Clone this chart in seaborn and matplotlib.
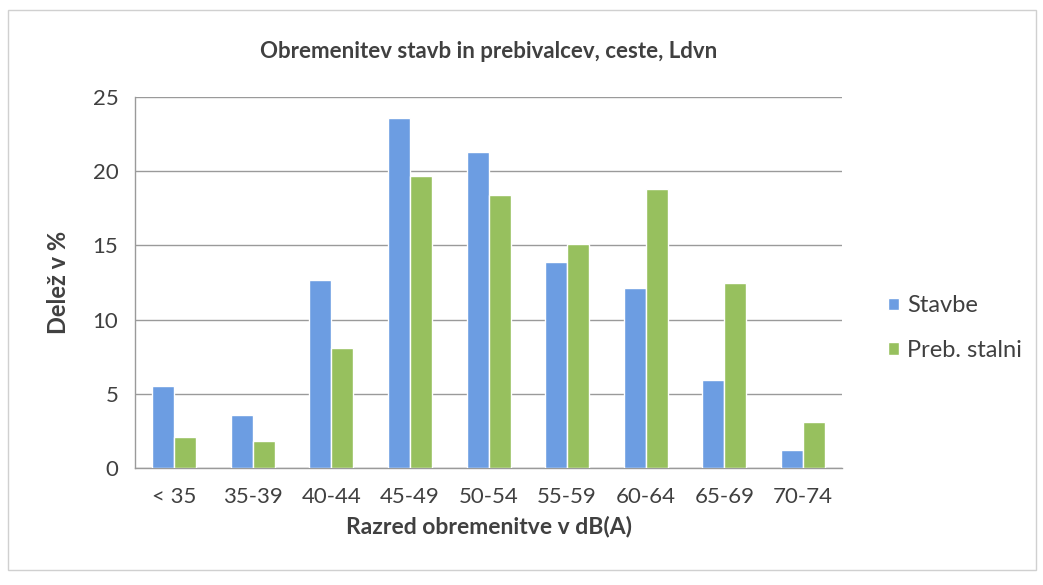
import pandas as pd
import numpy as np
import matplotlib
matplotlib.use('Agg')
import matplotlib.pyplot as plt
import seaborn as sns
from matplotlib.patches import Rectangle

# Podatki odčitani z grafa
razredi = ['< 35', '35-39', '40-44', '45-49', '50-54', '55-59', '60-64', '65-69', '70-74']
stavbe = [5.5, 3.6, 12.7, 23.6, 21.3, 13.9, 12.1, 5.9, 1.2]
preb_stalni = [2.1, 1.8, 8.1, 19.7, 18.4, 15.1, 18.8, 12.5, 3.1]
serije = ['Stavbe', 'Preb. stalni']
barve = ['#6C9DE2', '#97C05E']

df = pd.DataFrame({
    'Razred': razredi * 2,
    'Delez': stavbe + preb_stalni,
    'Serija': [serije[0]] * len(razredi) + [serije[1]] * len(razredi),
})

sns.set_style('white')
plt.rcParams['font.family'] = ['Lato', 'DejaVu Sans']
txt = '#404040'

fig = plt.figure(figsize=(10.43, 5.85), dpi=100)
ax = fig.add_axes([0.1294, 0.2, 0.678, 0.634])

sns.barplot(data=df, x='Razred', y='Delez', hue='Serija', palette=barve,
            width=0.56, gap=0, ax=ax, saturation=1, zorder=3)

ax.set_ylim(0, 25)
ax.set_yticks([0, 5, 10, 15, 20, 25])
ax.set_xlim(-0.5, len(razredi) - 0.5)
ax.yaxis.grid(True, color='#9a9a9a', linewidth=1.0, zorder=0)
ax.set_axisbelow(True)
for s in ['top', 'right']:
    ax.spines[s].set_visible(False)
for s in ['left', 'bottom']:
    ax.spines[s].set_color('#9a9a9a')
    ax.spines[s].set_linewidth(1.0)
ax.tick_params(axis='both', labelsize=16, colors=txt, length=0)
ax.tick_params(axis='x', pad=14)
ax.tick_params(axis='y', pad=12)

ax.set_xlabel('Razred obremenitve v dB(A)', fontsize=16.5, fontweight='bold', color=txt, labelpad=6)
ax.set_ylabel('Delež v %', fontsize=17, fontweight='bold', color=txt, labelpad=16)
ax.set_title('Obremenitev stavb in prebivalcev, ceste, Ldvn', fontsize=16, fontweight='bold',
             color=txt, pad=28)

leg = ax.legend(loc='center left', bbox_to_anchor=(1.065, 0.377), frameon=False,
                fontsize=17, handlelength=0.45, handleheight=0.45, handletextpad=0.35,
                labelspacing=1.0, borderpad=0, borderaxespad=0)
for t in leg.get_texts():
    t.set_color(txt)

# okvir grafa
fig.patches.append(Rectangle((0.008, 0.025), 0.985, 0.958, transform=fig.transFigure,
                             fill=False, edgecolor='#d0d0d0', linewidth=1.0))

fig.savefig('out.png', dpi=100)
